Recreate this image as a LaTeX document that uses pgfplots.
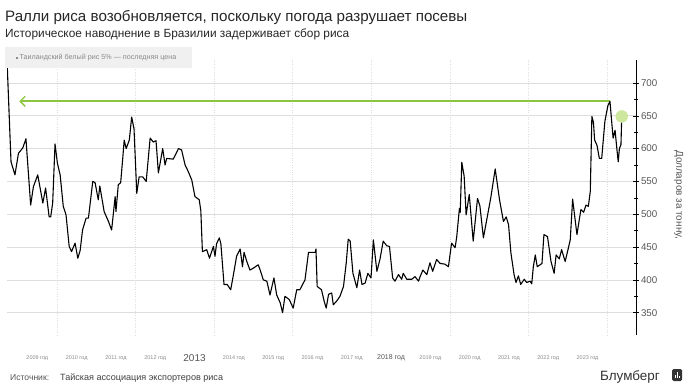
\documentclass[border=0pt]{standalone}
\usepackage{fontspec}
\setmainfont{Liberation Sans}
\usepackage{pgfplots}
\usepackage{pgfplotstable}
\pgfplotsset{compat=1.18}
\usetikzlibrary{arrows.meta}
\definecolor{arrgreen}{HTML}{8CC63F}
\definecolor{circgreen}{HTML}{CDE79E}
\definecolor{txtgray}{HTML}{555555}
\definecolor{ltgray}{HTML}{8A8A8A}
\definecolor{gridgray}{HTML}{DDDDDD}
\definecolor{boxgray}{HTML}{F0F0F0}
\pgfplotstableread{
year value
2008.70 760
2008.735 725
2008.83 580
2008.93 560
2009.02 593
2009.13 601
2009.21 615
2009.33 514
2009.40 542
2009.51 560
2009.64 517
2009.71 540
2009.80 496
2009.84 496
2009.89 517
2009.95 607
2010.01 578
2010.08 560
2010.16 512
2010.23 499
2010.31 451
2010.37 443
2010.46 456
2010.53 433
2010.59 445
2010.65 476
2010.74 494
2010.80 494
2010.91 550
2010.97 548
2011.05 522
2011.09 543
2011.20 504
2011.31 489
2011.39 476
2011.48 527
2011.50 504
2011.56 545
2011.62 548
2011.67 583
2011.71 613
2011.76 600
2011.84 613
2011.90 648
2011.96 630
2012.03 532
2012.09 557
2012.18 557
2012.27 550
2012.37 616
2012.45 610
2012.52 612
2012.58 563
2012.69 600
2012.75 575
2012.79 585
2012.96 584
2013.09 600
2013.17 598
2013.26 575
2013.34 565
2013.43 552
2013.51 527
2013.62 522
2013.66 505
2013.70 443
2013.81 446
2013.88 433
2013.98 451
2014.02 436
2014.06 455
2014.13 464
2014.17 455
2014.25 393
2014.33 393
2014.42 385
2014.49 408
2014.57 436
2014.66 447
2014.72 420
2014.76 442
2014.83 428
2014.91 415
2015.00 418
2015.12 423
2015.17 415
2015.25 400
2015.34 398
2015.42 377
2015.52 403
2015.59 377
2015.68 365
2015.74 350
2015.80 375
2015.91 370
2016.01 357
2016.10 385
2016.18 385
2016.31 400
2016.40 442
2016.48 442
2016.57 442
2016.59 447
2016.62 390
2016.73 385
2016.80 367
2016.85 357
2016.91 378
2016.99 380
2017.03 362
2017.12 368
2017.20 375
2017.29 390
2017.36 426
2017.41 462
2017.46 459
2017.53 410
2017.63 388
2017.70 415
2017.76 393
2017.84 395
2017.91 410
2017.99 403
2018.05 461
2018.14 413
2018.22 432
2018.30 459
2018.39 452
2018.46 451
2018.54 403
2018.60 398
2018.69 408
2018.77 401
2018.81 410
2018.90 401
2019.03 401
2019.11 405
2019.20 398
2019.24 405
2019.31 415
2019.41 408
2019.49 426
2019.56 413
2019.66 431
2019.75 425
2019.87 424
2019.96 420
2020.04 456
2020.13 449
2020.17 465
2020.24 509
2020.26 503
2020.30 579
2020.36 558
2020.41 499
2020.49 530
2020.59 459
2020.70 524
2020.76 513
2020.85 464
2020.93 490
2021.04 526
2021.15 569
2021.26 522
2021.36 489
2021.43 496
2021.49 484
2021.55 441
2021.63 408
2021.68 396
2021.74 406
2021.80 393
2021.89 401
2021.95 396
2022.04 398
2022.08 394
2022.12 420
2022.17 438
2022.22 420
2022.34 425
2022.39 469
2022.48 466
2022.57 428
2022.65 410
2022.70 438
2022.78 432
2022.84 446
2022.93 428
2022.99 443
2023.06 461
2023.12 523
2023.23 469
2023.33 507
2023.40 503
2023.46 514
2023.52 512
2023.57 535
2023.61 649
2023.65 640
2023.68 613
2023.74 605
2023.80 585
2023.86 585
2023.90 613
2023.94 641
2023.98 654
2024.02 666
2024.07 672
2024.11 644
2024.15 616
2024.20 628
2024.24 603
2024.28 580
2024.31 600
2024.35 606
2024.37 649
}\ricedata
\begin{document}
\begin{tikzpicture}[x=1bp,y=1bp]
\path[use as bounding box] (0,0) rectangle (692,385);
% titles
\node[anchor=base west, inner sep=0pt, text=black!85] at (5,364) {\fontsize{15.2}{17}\selectfont Ралли риса возобновляется, поскольку погода разрушает посевы};
\node[anchor=base west, inner sep=0pt, text=black!85] at (5,347.5) {\fontsize{11.9}{13}\selectfont Историческое наводнение в Бразилии задерживает сбор риса};
\begin{axis}[
  at={(7bp,50bp)}, anchor=south west,
  scale only axis, width=629bp, height=275bp,
  xmin=2008.728, xmax=2024.733, ymin=316, ymax=735,
  axis x line=bottom, x axis line style={draw=none},
  axis y line=right, y axis line style={-, black, line width=0.6bp},
  xtick={2009.5,2010.5,...,2023.5},
  xticklabels={
    {\fontsize{5.5}{6}\selectfont 2009 год},
    {\fontsize{5.5}{6}\selectfont 2010 год},
    {\fontsize{5.5}{6}\selectfont 2011 год},
    {\fontsize{5.5}{6}\selectfont 2012 год},
    {\fontsize{10}{11}\selectfont\color{txtgray} 2013},
    {\fontsize{5.5}{6}\selectfont 2014 год},
    {\fontsize{5.5}{6}\selectfont 2015 год},
    {\fontsize{5.5}{6}\selectfont 2016 год},
    {\fontsize{5.5}{6}\selectfont 2017 год},
    {\fontsize{7}{8}\selectfont\color{txtgray} 2018 год},
    {\fontsize{5.5}{6}\selectfont 2019 год},
    {\fontsize{5.5}{6}\selectfont 2020 год},
    {\fontsize{5.5}{6}\selectfont 2021 год},
    {\fontsize{5.5}{6}\selectfont 2022 год},
    {\fontsize{5.5}{6}\selectfont 2023 год}},
  xticklabel style={text=ltgray, anchor=center, yshift=-20bp},
  x tick style={draw=none},
  extra x ticks={2010,2012,2014,2016,2018,2020,2022,2024},
  extra x tick labels={},
  extra x tick style={grid=major, major grid style={gridgray, dotted, line width=0.7bp}, tick style={draw=none}},
  ytick={350,400,...,700},
  minor y tick num=1,
  ymajorgrids, y grid style={gridgray, line width=0.6bp},
  tick align=center,
  major tick length=6bp, minor tick length=4bp,
  y tick style={black, line width=0.5bp},
  yticklabel style={text=txtgray, font=\fontsize{9.8}{10}\selectfont, xshift=-1.5bp},
  /pgf/number format/assume math mode=true,
  ylabel={Долларов за тонну,},
  ylabel style={rotate=180, text=txtgray, font=\fontsize{10}{11}\selectfont, at={(axis description cs:1.068,0.51)}, anchor=center},
  clip=true,
]
\addplot[color=circgreen, only marks, mark=*, mark size=6bp, mark options={draw=circgreen, fill=circgreen}, forget plot] coordinates {(2024.37,649)};
\addplot[draw={rgb,255:red,140;green,198;blue,63}, line width=2.2bp, forget plot] coordinates {(2024.07,672) (2009.10,672)};
\addplot[draw={rgb,255:red,140;green,198;blue,63}, line width=1.3bp, -{Straight Barb[length=5bp, width=10bp]}, forget plot] coordinates {(2009.5,672) (2009.04,672)};
\addplot[black, line width=1.1bp, line join=round] table[x=year, y=value] {\ricedata};
\end{axis}
% legend box
\fill[boxgray] (5,317) rectangle (192,338);
\node[anchor=west, inner sep=0pt, text=ltgray] at (16,327.5) {\fontsize{7.2}{8}\selectfont \rule{2.2bp}{2.2bp}\,Таиландский белый рис 5\% — последняя цена};
% footer
\node[anchor=base west, inner sep=0pt, text=txtgray] at (10,5) {\fontsize{8.6}{10}\selectfont Источник:};
\node[anchor=base west, inner sep=0pt, text=black!75] at (60,5) {\fontsize{9.1}{10}\selectfont Тайская ассоциация экспортеров риса};
\node[anchor=base west, inner sep=0pt, text=black!80] at (600,5) {\fontsize{13.5}{15}\selectfont Блумберг};
\fill[black!80, rounded corners=1.5bp] (672,4) rectangle (682,16);
\fill[white] (675,7) rectangle (676,10);
\fill[white] (677,7) rectangle (678,13);
\fill[white] (679,7) rectangle (680,9);
\end{tikzpicture}
\end{document}
